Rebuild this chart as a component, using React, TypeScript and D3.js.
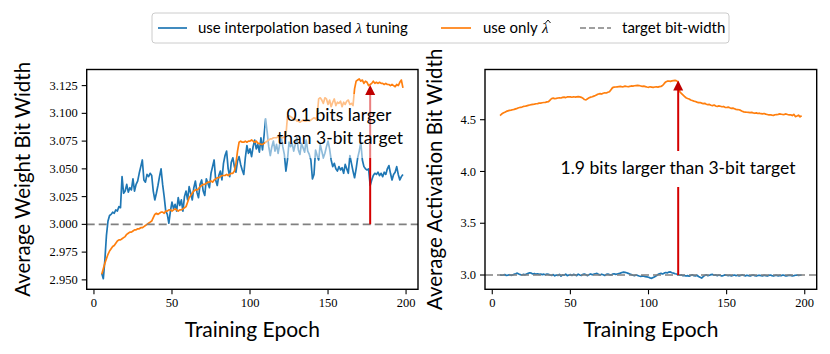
import React from "react";
import * as d3 from "d3";

// epochs start at 5, one value per epoch up to 198
const EPOCH_START = 5;

// left panel: average weight bit width
const weightInterp = [
  2.956, 2.951, 2.968, 2.990, 3.003, 3.008, 3.009, 3.011, 3.010, 3.013,
  3.012, 3.016, 3.015, 3.043, 3.028, 3.030, 3.036, 3.029, 3.033, 3.031,
  3.041, 3.030, 3.036, 3.039, 3.046, 3.052, 3.058, 3.040, 3.038, 3.045,
  3.043, 3.046, 3.044, 3.030, 3.022, 3.028, 3.035, 3.043, 3.050, 3.036,
  3.025, 3.012, 3.009, 3.001, 3.012, 3.020, 3.014, 3.018, 3.012, 3.024,
  3.017, 3.022, 3.012, 3.025, 3.030, 3.022, 3.034, 3.028, 3.022, 3.033,
  3.039, 3.029, 3.024, 3.036, 3.040, 3.030, 3.026, 3.041, 3.037, 3.033,
  3.046, 3.052, 3.058, 3.040, 3.035, 3.044, 3.048, 3.040, 3.055, 3.062,
  3.066, 3.050, 3.043, 3.056, 3.060, 3.052, 3.047, 3.057, 3.061, 3.054,
  3.049, 3.045, 3.060, 3.071, 3.064, 3.068, 3.061, 3.070, 3.076, 3.068,
  3.072, 3.065, 3.078, 3.067, 3.080, 3.095, 3.083, 3.070, 3.062, 3.070,
  3.075, 3.066, 3.072, 3.064, 3.072, 3.079, 3.070, 3.063, 3.048, 3.058,
  3.074, 3.070, 3.073, 3.066, 3.072, 3.078, 3.067, 3.063, 3.073, 3.069,
  3.065, 3.076, 3.066, 3.063, 3.058, 3.041, 3.045, 3.067, 3.062, 3.058,
  3.072, 3.066, 3.060, 3.064, 3.070, 3.075, 3.068, 3.058, 3.052, 3.055,
  3.050, 3.048, 3.052, 3.049, 3.051, 3.046, 3.054, 3.050, 3.046, 3.062,
  3.055, 3.048, 3.042, 3.050, 3.060, 3.066, 3.074, 3.058, 3.052, 3.050,
  3.049, 3.050, 3.035, 3.040, 3.044, 3.046, 3.045, 3.047, 3.044, 3.046,
  3.043, 3.047, 3.045, 3.050, 3.053, 3.046, 3.040, 3.045, 3.047, 3.052,
  3.045, 3.040, 3.043, 3.045,
];

const weightLambdaHat = [
  2.955, 2.960, 2.965, 2.969, 2.973, 2.976, 2.978, 2.980, 2.981, 2.983,
  2.985, 2.986, 2.986, 2.987, 2.988, 2.989, 2.991, 2.992, 2.993, 2.993,
  2.994, 2.995, 2.995, 2.996, 2.996, 2.997, 2.997, 2.998, 2.999, 3.000,
  3.001, 3.002, 3.003, 3.006, 3.009, 3.010, 3.009, 3.010, 3.011, 3.011,
  3.010, 3.012, 3.012, 3.013, 3.013, 3.012, 3.013, 3.014, 3.013, 3.012,
  3.013, 3.013, 3.014, 3.015, 3.016, 3.020, 3.024, 3.026, 3.028, 3.030,
  3.031, 3.031, 3.032, 3.034, 3.035, 3.036, 3.036, 3.037, 3.038, 3.038,
  3.039, 3.038, 3.040, 3.041, 3.042, 3.042, 3.043, 3.044, 3.044, 3.044,
  3.045, 3.044, 3.045, 3.046, 3.046, 3.048, 3.055, 3.066, 3.074, 3.075,
  3.074, 3.074, 3.075, 3.074, 3.075, 3.075, 3.076, 3.075, 3.074, 3.075,
  3.073, 3.073, 3.072, 3.072, 3.073, 3.074, 3.075, 3.076, 3.077, 3.077,
  3.078, 3.078, 3.078, 3.079, 3.079, 3.078, 3.078, 3.079, 3.080, 3.097,
  3.098, 3.097, 3.096, 3.094, 3.095, 3.093, 3.093, 3.092, 3.093, 3.094,
  3.093, 3.093, 3.094, 3.093, 3.094, 3.095, 3.096, 3.095, 3.097, 3.113,
  3.114, 3.112, 3.109, 3.114, 3.113, 3.108, 3.112, 3.106, 3.110, 3.113,
  3.107, 3.110, 3.109, 3.111, 3.106, 3.110, 3.108, 3.111, 3.112, 3.108,
  3.109, 3.107, 3.122, 3.129, 3.130, 3.131, 3.129, 3.130, 3.127, 3.129,
  3.128, 3.125, 3.126, 3.127, 3.129, 3.127, 3.128, 3.127, 3.128, 3.127,
  3.127, 3.126, 3.127, 3.126, 3.126, 3.125, 3.126, 3.125, 3.124, 3.126,
  3.125, 3.128, 3.130, 3.123,
];

// right panel: average activation bit width
const actInterp = [
  3.002, 2.998, 3.000, 3.004, 2.996, 2.999, 3.003, 2.997, 3.001, 3.008,
  3.012, 3.018, 3.010, 3.004, 3.000, 3.006, 3.002, 3.010, 3.016, 3.022,
  3.018, 3.010, 3.014, 3.008, 3.012, 3.006, 3.010, 3.004, 3.008, 3.002,
  3.010, 3.006, 3.000, 2.996, 3.004, 2.992, 3.000, 2.996, 3.006, 2.990,
  3.002, 2.998, 3.008, 2.994, 3.000, 3.004, 2.996, 3.006, 3.002, 2.994,
  3.008, 3.000, 2.996, 3.006, 3.010, 3.002, 2.994, 3.004, 3.010, 3.002,
  3.008, 3.012, 3.016, 3.006, 3.000, 3.008, 3.002, 2.996, 3.006, 3.010,
  3.004, 3.000, 3.008, 3.012, 3.006, 3.010, 3.014, 3.018, 3.024, 3.028,
  3.026, 3.022, 3.016, 3.010, 3.004, 2.998, 2.994, 3.000, 2.996, 2.990,
  2.986, 2.992, 2.988, 2.984, 2.982, 2.978, 2.972, 2.968, 2.976, 2.984,
  2.992, 3.004, 3.012, 3.016, 3.010, 3.018, 3.024, 3.020, 3.028, 3.030,
  3.022, 3.018, 3.012, 3.010, 3.000, 2.998, 3.002, 2.994, 2.996, 2.990,
  2.994, 2.988, 2.996, 3.002, 2.994, 2.992, 2.998, 2.986, 2.978, 2.970,
  2.984, 2.996, 3.002, 2.994, 2.998, 3.004, 3.006, 2.998, 3.002, 2.994,
  3.000, 2.996, 2.990, 2.996, 3.002, 2.998, 2.994, 2.998, 2.992, 2.996,
  3.000, 2.994, 2.998, 2.992, 2.996, 3.002, 2.996, 2.992, 2.998, 2.994,
  2.990, 2.996, 3.000, 2.994, 2.990, 2.996, 2.998, 2.994, 2.992, 2.998,
  2.994, 2.990, 2.996, 3.000, 2.994, 2.990, 2.996, 2.998, 2.992, 2.996,
  2.994, 3.000, 2.996, 2.990, 2.994, 2.998, 2.996, 2.992, 2.994, 2.998,
  3.000, 2.996, 2.998, 3.000,
];

const actLambdaHat = [
  4.540, 4.555, 4.565, 4.572, 4.580, 4.585, 4.590, 4.592, 4.596, 4.600,
  4.605, 4.610, 4.616, 4.620, 4.622, 4.628, 4.630, 4.634, 4.638, 4.642,
  4.645, 4.648, 4.650, 4.654, 4.656, 4.660, 4.661, 4.664, 4.666, 4.668,
  4.672, 4.674, 4.690, 4.705, 4.708, 4.703, 4.706, 4.710, 4.712, 4.710,
  4.716, 4.718, 4.714, 4.720, 4.722, 4.720, 4.717, 4.722, 4.719, 4.721,
  4.723, 4.720, 4.716, 4.708, 4.695, 4.692, 4.703, 4.712, 4.718, 4.722,
  4.728, 4.734, 4.742, 4.748, 4.752, 4.748, 4.756, 4.760, 4.758, 4.765,
  4.770, 4.790, 4.810, 4.815, 4.816, 4.818, 4.820, 4.822, 4.818, 4.820,
  4.824, 4.821, 4.818, 4.822, 4.826, 4.824, 4.828, 4.830, 4.832, 4.830,
  4.826, 4.822, 4.824, 4.820, 4.816, 4.813, 4.818, 4.815, 4.812, 4.816,
  4.818, 4.815, 4.820, 4.822, 4.830, 4.848, 4.865, 4.872, 4.874, 4.870,
  4.875, 4.878, 4.880, 4.876, 4.860, 4.770, 4.755, 4.740, 4.725, 4.712,
  4.705, 4.700, 4.690, 4.685, 4.680, 4.676, 4.670, 4.665, 4.666, 4.660,
  4.655, 4.658, 4.650, 4.645, 4.648, 4.640, 4.636, 4.642, 4.632, 4.628,
  4.634, 4.630, 4.625, 4.628, 4.620, 4.618, 4.622, 4.615, 4.610, 4.612,
  4.606, 4.600, 4.598, 4.596, 4.590, 4.582, 4.576, 4.574, 4.572, 4.570,
  4.568, 4.571, 4.566, 4.562, 4.566, 4.560, 4.563, 4.558, 4.556, 4.560,
  4.554, 4.550, 4.546, 4.548, 4.544, 4.542, 4.548, 4.550, 4.552, 4.556,
  4.553, 4.550, 4.552, 4.556, 4.550, 4.546, 4.548, 4.540, 4.552, 4.530,
  4.536, 4.544, 4.528, 4.538,
];

const xTicks = [0, 50, 100, 150, 200];
const weightTicks = [2.95, 2.975, 3.0, 3.025, 3.05, 3.075, 3.1, 3.125];
const actTicks = [3.0, 3.5, 4.0, 4.5];
const TARGET = 3.0;

const BLUE = "#1f77b4";
const ORANGE = "#ff7f0e";
const SANS = "Lato, 'DejaVu Sans', sans-serif";
const SERIF = "'Liberation Serif', 'DejaVu Serif', serif";

const epochs = weightInterp.map((_, i) => EPOCH_START + i);

function Panel({ box, yDomain, yTicks, yFmt, ylabel, interp, lambdaHat, arrow, children }) {
  const [x0, x1, y0, y1] = box; // left, right, top, bottom
  const x = d3.scaleLinear().domain([-4.65, 207.65]).range([x0, x1]);
  const y = d3.scaleLinear().domain(yDomain).range([y1, y0]);
  const line = d3
    .line<number>()
    .x((_, i) => x(epochs[i]))
    .y((d) => y(d));

  const ax = x(arrow.epoch);
  const ayTop = y(arrow.top);
  const ayBase = y(TARGET);

  return (
    <g>
      <defs>
        <clipPath id={"clip" + x0}>
          <rect x={x0} y={y0} width={x1 - x0} height={y1 - y0} />
        </clipPath>
      </defs>
      <g clipPath={`url(#clip${x0})`}>
        <path d={line(interp) || ""} fill="none" stroke={BLUE} strokeWidth={1.7} strokeLinejoin="round" />
        <path d={line(lambdaHat) || ""} fill="none" stroke={ORANGE} strokeWidth={1.7} strokeLinejoin="round" />
        <line x1={x0} x2={x1} y1={y(TARGET)} y2={y(TARGET)} stroke="#808080" strokeWidth={1.6} strokeDasharray="8,4" />
        <line x1={ax} x2={ax} y1={ayBase} y2={ayTop + 8} stroke="#d40000" strokeWidth={2} />
        {children}
        <path d={`M${ax},${ayTop} L${ax - 5},${ayTop + 10} L${ax + 5},${ayTop + 10} Z`} fill="#c00000" />
      </g>
      <rect x={x0} y={y0} width={x1 - x0} height={y1 - y0} fill="none" stroke="black" strokeWidth={1.4} />
      {xTicks.map((t) => (
        <g key={t}>
          <line x1={x(t)} x2={x(t)} y1={y1} y2={y1 + 5} stroke="black" strokeWidth={1.1} />
          <text x={x(t)} y={y1 + 18} textAnchor="middle" fontFamily={SERIF} fontSize={12.5}>
            {t}
          </text>
        </g>
      ))}
      {yTicks.map((t) => (
        <g key={t}>
          <line x1={x0 - 5} x2={x0} y1={y(t)} y2={y(t)} stroke="black" strokeWidth={1.1} />
          <text x={x0 - 9} y={y(t)} dy="0.33em" textAnchor="end" fontFamily={SERIF} fontSize={12.5}>
            {yFmt(t)}
          </text>
        </g>
      ))}
      <text x={(x0 + x1) / 2} y={337} textAnchor="middle" fontFamily={SANS} fontSize={21}>
        Training Epoch
      </text>
      <text
        transform={`translate(${ylabel.x},${(y0 + y1) / 2}) rotate(-90)`}
        textAnchor="middle"
        dy="0.35em"
        fontFamily={SANS}
        fontSize={20.5}
      >
        {ylabel.text}
      </text>
    </g>
  );
}

export default function App() {
  const legendY = 28;
  return (
    <svg width={830} height={354} style={{ position: "absolute", left: 0, top: 0, background: "white" }}>
      <Panel
        box={[86.7, 418, 69.5, 289.3]}
        yDomain={[2.9415, 3.1395]}
        yTicks={weightTicks}
        yFmt={d3.format(".3f")}
        ylabel={{ x: 23, text: "Average Weight Bit Width" }}
        interp={weightInterp}
        lambdaHat={weightLambdaHat}
        arrow={{ epoch: 177, top: 3.1255 }}
      >
        <rect x={265} y={94} width={140} height={64} rx={4} fill="white" fillOpacity={0.5} />
        <text x={339} y={115} dy="0.35em" textAnchor="middle" fontFamily={SANS} fontSize={17.5}>
          0.1 bits larger
        </text>
        <text x={340} y={138} dy="0.35em" textAnchor="middle" fontFamily={SANS} fontSize={17.5}>
          than 3-bit target
        </text>
      </Panel>
      <Panel
        box={[485, 816.7, 69.5, 289.3]}
        yDomain={[2.862, 4.985]}
        yTicks={actTicks}
        yFmt={d3.format(".1f")}
        ylabel={{ x: 435, text: "Average Activation Bit Width" }}
        interp={actInterp}
        lambdaHat={actLambdaHat}
        arrow={{ epoch: 119, top: 4.879 }}
      >
        <rect x={553} y={151} width={250} height={36} fill="white" />
        <text x={678} y={168} dy="0.35em" textAnchor="middle" fontFamily={SANS} fontSize={17.5}>
          1.9 bits larger than 3-bit target
        </text>
      </Panel>

      {/* legend */}
      <rect x={152} y={13} width={577} height={30} rx={3} fill="white" stroke="#cccccc" strokeWidth={1} />
      <line x1={158} x2={187} y1={legendY} y2={legendY} stroke={BLUE} strokeWidth={1.7} />
      <text x={198} y={legendY} dy="0.35em" fontFamily={SANS} fontSize={15}>
        use interpolation based <tspan fontStyle="italic" fontFamily={SERIF}>λ</tspan> tuning
      </text>
      <line x1={441} x2={471} y1={legendY} y2={legendY} stroke={ORANGE} strokeWidth={1.7} />
      <text x={483} y={legendY} dy="0.35em" fontFamily={SANS} fontSize={15}>
        use only
      </text>
      <text x={542} y={legendY} dy="0.35em" fontFamily={SERIF} fontStyle="italic" fontSize={15}>
        λ
      </text>
      {/* hat over lambda */}
      <path d={`M545.5,${legendY - 5} L548,${legendY - 8} L550.5,${legendY - 5}`} fill="none" stroke="black" strokeWidth={0.9} />
      <line x1={580} x2={611} y1={legendY} y2={legendY} stroke="#808080" strokeWidth={1.6} strokeDasharray="6,3" />
      <text x={622} y={legendY} dy="0.35em" fontFamily={SANS} fontSize={15}>
        target bit-width
      </text>
    </svg>
  );
}
